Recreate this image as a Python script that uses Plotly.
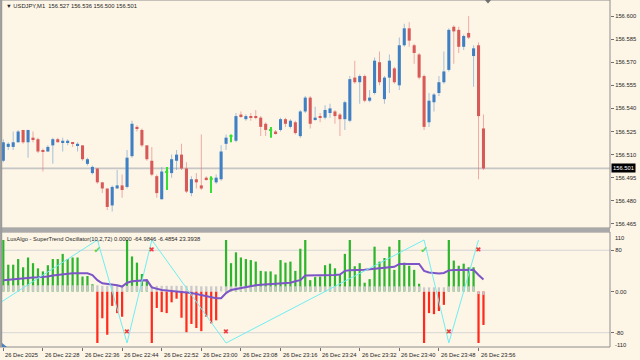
import plotly.graph_objects as go

# ---------------- data ----------------
opens = [156.506, 156.515, 156.515, 156.518, 156.526, 156.518, 156.521, 156.520, 156.513, 156.512,
         156.516, 156.520, 156.518, 156.518, 156.518, 156.516, 156.516, 156.504, 156.498, 156.501,
         156.492, 156.488, 156.477, 156.488, 156.490, 156.489, 156.509, 156.528, 156.526, 156.516,
         156.506, 156.496, 156.481, 156.4985, 156.498, 156.506, 156.510, 156.501, 156.485, 156.494,
         156.490, 156.495, 156.494, 156.492, 156.494, 156.517, 156.5215, 156.519, 156.536, 156.533,
         156.535, 156.535, 156.534, 156.530, 156.5255, 156.525, 156.526, 156.533, 156.528, 156.531,
         156.522, 156.538, 156.547, 156.533, 156.535, 156.534, 156.537, 156.538, 156.536, 156.533,
         156.532, 156.560, 156.557, 156.561, 156.545, 156.550, 156.570, 156.546, 156.560, 156.566,
         156.555, 156.581, 156.592, 156.581, 156.575, 156.561, 156.531, 156.544, 156.550, 156.557,
         156.565, 156.593, 156.591, 156.580, 156.589, 156.574, 156.581, 156.527]
highs = [156.520, 156.518, 156.525, 156.526, 156.526, 156.526, 156.525, 156.521, 156.514, 156.516,
         156.521, 156.521, 156.521, 156.520, 156.518, 156.518, 156.516, 156.508, 156.503, 156.501,
         156.492, 156.488, 156.490, 156.500, 156.497, 156.513, 156.532, 156.529, 156.527, 156.516,
         156.515, 156.497, 156.502, 156.502, 156.510, 156.513, 156.517, 156.505, 156.496, 156.498,
         156.523, 156.496, 156.496, 156.497, 156.516, 156.523, 156.523, 156.537, 156.538, 156.536,
         156.537, 156.539, 156.535, 156.531, 156.528, 156.526, 156.534, 156.534, 156.533, 156.532,
         156.539, 156.548, 156.548, 156.541, 156.537, 156.542, 156.543, 156.539, 156.537, 156.545,
         156.561, 156.571, 156.562, 156.562, 156.552, 156.573, 156.577, 156.561, 156.575, 156.567,
         156.586, 156.595, 156.596, 156.582, 156.576, 156.562, 156.550, 156.550, 156.561, 156.577,
         156.592, 156.594, 156.593, 156.588, 156.600, 156.581, 156.583, 156.536]
lows = [156.505, 156.513, 156.513, 156.518, 156.517, 156.508, 156.518, 156.511, 156.499, 156.512,
        156.504, 156.518, 156.512, 156.516, 156.515, 156.512, 156.506, 156.503, 156.497, 156.491,
        156.485, 156.474, 156.473, 156.488, 156.482, 156.488, 156.508, 156.525, 156.515, 156.506,
        156.496, 156.482, 156.481, 156.487, 156.495, 156.500, 156.500, 156.485, 156.483, 156.488,
        156.487, 156.493, 156.485, 156.491, 156.493, 156.513, 156.518, 156.518, 156.534, 156.532,
        156.532, 156.533, 156.522, 156.522, 156.521, 156.523, 156.525, 156.528, 156.527, 156.523,
        156.521, 156.537, 156.527, 156.532, 156.531, 156.533, 156.534, 156.530, 156.522, 156.526,
        156.531, 156.556, 156.543, 156.544, 156.544, 156.549, 156.555, 156.543, 156.550, 156.556,
        156.552, 156.580, 156.580, 156.569, 156.559, 156.526, 156.528, 156.538, 156.548, 156.556,
        156.564, 156.569, 156.576, 156.578, 156.585, 156.554, 156.494, 156.500]
closes = [156.518, 156.517, 156.518, 156.525, 156.518, 156.526, 156.520, 156.512, 156.512, 156.515,
          156.520, 156.518, 156.519, 156.519, 156.517, 156.517, 156.507, 156.507, 156.502, 156.492,
          156.488, 156.476, 156.489, 156.490, 156.487, 156.508, 156.530, 156.527, 156.516, 156.507,
          156.497, 156.485, 156.499, 156.4995, 156.507, 156.510, 156.501, 156.486, 156.494, 156.492,
          156.488, 156.494, 156.495, 156.495, 156.512, 156.521, 156.5225, 156.535, 156.535, 156.535,
          156.534, 156.534, 156.528, 156.526, 156.5265, 156.524, 156.533, 156.530, 156.532, 156.524,
          156.538, 156.547, 156.530, 156.534, 156.534, 156.539, 156.540, 156.535, 156.533, 156.544,
          156.559, 156.557, 156.561, 156.545, 156.547, 156.571, 156.557, 156.560, 156.571, 156.557,
          156.581, 156.592, 156.584, 156.576, 156.560, 156.528, 156.545, 156.549, 156.557, 156.564,
          156.591, 156.590, 156.580, 156.587, 156.586, 156.579, 156.535, 156.501]
highlight_bars = [33, 42, 46, 54]

osc_hist = [100, 52, 52, 63, 47, 66, 55, 45, 39, 51,
            63, 63, 73, 63, 66, 66, 29, 30, 14,
            -100, -52, -84, -28, -42, -49,
            100, 68, 56, 34, 22,
            -100, -32, -40, -42, -21, -14, -51, -79, -63, -71, -77, -49, -62, -56,
            0,
            100, 55, 76, 66, 63, 61, 58, 40, 39, 39, 33, 61, 56, 58, 40, 83, 100, 22, 28,
            29, 51, 54, 45, 32, 73, 100, 49, 55, 17, 24, 87, 58, 65, 87, 42, 100, 56, 50, 42, 15,
            -100, -42, -44, -38, -26,
            100, 60, 50, 54, 47, 47,
            -100, -64.98]
osc_gray = [12, 12, 12, 12, 12, 12, 12, 12, 12, 12, 12, 12, 12, 12, 12, 12, 12, 12, 12, 12,
            11, 11, 11, 11, 11, 11, 11, 11, 11, 11, 11, 11, 11, 11, 11, 11, 11, 11, 11, 11,
            10, 10, 10, 10, 10, 10, 10, 10, 10, 10, 10, 10, 10, 10, 10, 10, 10, 10, 10, 10,
            10, 10, 10, 10, 10, 10, 10, 10, 10, 10, 10, 10, 10, 10, 10, 10, 10, 10, 10, 10,
            10, 10, 10, 10, 10, 8, 8, 8, 8, 8, 10, 10, 10, 10, 10, 10, -5, -6.49]
osc_signal = [22, 23, 24, 25, 26, 26.5, 27, 27.5, 28, 29,
              31, 32, 34, 35, 35.5, 35.5, 35.5, 35.5, 32, 22,
              16, 15, 13, 12, 9.6, 17, 20, 21, 22, 22,
              8, 5, 3, 2, 1, 0, -1, -1.5, -3, -5,
              -7, -9, -11, -13, -13, -3, 3, 5, 7, 9,
              11, 12, 13, 13.5, 14, 15, 16, 16.5, 17, 20,
              22, 31, 31, 31, 31, 31.5, 31.5, 32, 33, 40,
              41, 41, 41.5, 42, 43, 44, 45, 46, 47, 48,
              53.5, 53.5, 53.5, 53.5, 53.5, 40, 37, 36, 35, 36,
              41, 41.5, 41.5, 42, 42, 42, 32, 23.39]
zig_bars = [0, 19, 25, 30, 45, 85, 90, 96]
zig_vals = [-18, 100, -100, 100, -100, 100, -100, 100]
buy_bars = [19, 85]
buy_vals = [80, 80]
sell_bars = [25, 30, 45, 90, 96]
sell_vals = [-80, 80, -80, -80, 80]

time_bars = [0, 8, 16, 24, 32, 40, 48, 56, 64, 72, 80, 88, 96]
time_labels = ["26 Dec 2025", "26 Dec 22:28", "26 Dec 22:36", "26 Dec 22:44", "26 Dec 22:52",
               "26 Dec 23:00", "26 Dec 23:08", "26 Dec 23:16", "26 Dec 23:24", "26 Dec 23:32",
               "26 Dec 23:40", "26 Dec 23:48", "26 Dec 23:56"]
price_ticks = [156.465, 156.480, 156.495, 156.510, 156.525, 156.540, 156.555, 156.570, 156.585, 156.600]
osc_ticks = [80, 0, -80]
osc_tick_text = ["80", "0.00", "-80"]

# ---------------- styling ----------------
BG = "#FDF5E6"
BLUE = "#3F7FC3"
RED = "#D85A58"
GREEN_C = "#33E033"
FONT = "Liberation Sans, Arial, sans-serif"
FS = 5.8
TXT = "#262626"

n = len(opens)
xs = list(range(n))

body_col, wick_col = [], []
for i in xs:
    if i in highlight_bars:
        body_col.append(GREEN_C)
        wick_col.append(GREEN_C)
    elif closes[i] >= opens[i]:
        body_col.append(BLUE)
        wick_col.append("rgba(95,150,205,0.55)")
    else:
        body_col.append(RED)
        wick_col.append("rgba(225,110,110,0.55)")

body_base = [min(o, c) for o, c in zip(opens, closes)]
body_h = [max(abs(c - o), 0.0006) for o, c in zip(opens, closes)]
wick_h = [h - l for h, l in zip(highs, lows)]

fig = go.Figure()
fig.add_trace(go.Bar(x=xs, y=wick_h, base=lows, width=0.2, marker=dict(color=wick_col, line=dict(width=0)),
                     yaxis="y", hoverinfo="skip"))
fig.add_trace(go.Bar(x=xs, y=body_h, base=body_base, width=0.62, marker=dict(color=body_col, line=dict(width=0)),
                     yaxis="y", hoverinfo="skip"))

osc_col = ["#2DB52D" if v >= 0 else "#FF2A1C" for v in osc_hist]
fig.add_trace(go.Bar(x=xs, y=osc_hist, base=0, width=0.45, marker=dict(color=osc_col, line=dict(width=0)),
                     yaxis="y2", hoverinfo="skip"))
fig.add_trace(go.Bar(x=xs, y=osc_gray, base=0, width=0.45, marker=dict(color="#C9C9C9", line=dict(width=0)),
                     yaxis="y2", hoverinfo="skip"))
fig.add_trace(go.Scatter(x=xs, y=osc_signal, mode="lines", line=dict(color="#7D55C7", width=2),
                         yaxis="y2", hoverinfo="skip"))
fig.add_trace(go.Scatter(x=[-0.67] + zig_bars[1:], y=[-22] + zig_vals[1:], mode="lines",
                         line=dict(color="#6EEEF2", width=1), yaxis="y2", hoverinfo="skip"))
fig.add_trace(go.Scatter(x=buy_bars, y=buy_vals, mode="text", text=["✔"] * len(buy_bars),
                         textfont=dict(color="#55D355", size=9, family="DejaVu Sans"), yaxis="y2", hoverinfo="skip"))
fig.add_trace(go.Scatter(x=sell_bars, y=sell_vals, mode="text", text=["✖"] * len(sell_bars),
                         textfont=dict(color="#F03A3A", size=7, family="DejaVu Sans"), yaxis="y2", hoverinfo="skip"))

H = 347.0  # plot area height in px (t=0, b=13)
main_dom = [(H - 228) / H, 1.0]
osc_dom = [0.0, (H - 232) / H]

def py(px):
    return (H - px) / H

fig.update_layout(
    width=640, height=360, margin=dict(l=0, r=30, t=0, b=13),
    paper_bgcolor=BG, plot_bgcolor=BG, showlegend=False, hovermode=False,
    barmode="overlay",
    font=dict(family=FONT, size=FS, color=TXT),
    xaxis=dict(range=[-0.667, 122.56], anchor="y2", showgrid=False, zeroline=False,
               tickvals=time_bars, showticklabels=False, ticks="outside", ticklen=3,
               tickcolor="#707070", showline=False, fixedrange=True),
    yaxis=dict(domain=main_dom, range=[156.46234, 156.61039], side="right", anchor="x",
               showgrid=False, zeroline=False, tickvals=price_ticks,
               ticktext=[f"{p:.3f}" for p in price_ticks], ticks="outside", ticklen=3,
               tickcolor="#707070", tickfont=dict(size=FS, color=TXT, family=FONT), showline=False),
    yaxis2=dict(domain=osc_dom, range=[-107.8, 115.5], side="right", anchor="x",
                showgrid=False, zeroline=False, tickvals=osc_ticks, ticktext=osc_tick_text,
                ticks="outside", ticklen=3, tickcolor="#707070",
                tickfont=dict(size=FS, color=TXT, family=FONT), showline=False),
)

shapes = []
# current price line
shapes.append(dict(type="line", xref="paper", x0=0, x1=1, yref="y", y0=closes[-1], y1=closes[-1],
                   line=dict(color="#C6C6C6", width=1.8), layer="below"))
# oscillator levels
for lv in [80, -80]:
    shapes.append(dict(type="line", xref="paper", x0=0, x1=1, yref="y2", y0=lv, y1=lv,
                       line=dict(color="#D6D6D6", width=1), layer="below"))
# panel frames
shapes.append(dict(type="rect", xref="paper", yref="paper", x0=0, x1=1, y0=main_dom[0], y1=1,
                   line=dict(color="#8E8E8E", width=1), layer="above"))
shapes.append(dict(type="rect", xref="paper", yref="paper", x0=0, x1=1, y0=0, y1=osc_dom[1],
                   line=dict(color="#8E8E8E", width=1), layer="above"))
# separator between panels
shapes.append(dict(type="rect", xref="paper", yref="paper", x0=0, x1=1, y0=osc_dom[1], y1=main_dom[0],
                   fillcolor="#A9A9A9", line=dict(width=0), layer="above"))
# left frame
shapes.append(dict(type="line", xref="paper", yref="paper", x0=0.002, x1=0.002, y0=0, y1=1,
                   line=dict(color="#9A9A9A", width=2), layer="above"))
# chart shift marker
shapes.append(dict(type="path", xref="paper", yref="paper",
                   path=f"M {485/610} {py(0)} L {491/610} {py(0)} L {488/610} {py(3.5)} Z",
                   fillcolor="#6E6E6E", line=dict(width=0), layer="above"))
# small marker bottom-left
shapes.append(dict(type="path", xref="paper", yref="paper",
                   path=f"M {2/610} {py(347)} L {7/610} {py(347)} L {2/610} {py(343)} Z",
                   fillcolor="#4A7FC1", line=dict(width=0), layer="above"))
fig.update_layout(shapes=shapes)

ann = []
header = f"▼ USDJPY,M1  {opens[-1]:.3f} {highs[-1]:.3f} {lows[-1]:.3f} {closes[-1]:.3f}"
ann.append(dict(text=header, xref="paper", yref="paper", x=4 / 610, y=py(6), xanchor="left",
                yanchor="middle", showarrow=False, font=dict(size=FS, color=TXT, family=FONT)))
ann.append(dict(text="LuxAlgo - SuperTrend Oscillator(10,2,72) 0.0000 -64.9846 -6.4854 23.3938",
                xref="paper", yref="paper", x=5 / 610, y=py(239), xanchor="left", yanchor="middle",
                showarrow=False, font=dict(size=FS, color=TXT, family=FONT)))
ann.append(dict(text="110", xref="paper", yref="paper", x=1, y=py(238), xanchor="left", yanchor="middle",
                xshift=3, showarrow=False, font=dict(size=FS, color=TXT, family=FONT)))
ann.append(dict(text="-110", xref="paper", yref="paper", x=1, y=py(344.7), xanchor="left", yanchor="middle",
                xshift=3, showarrow=False, font=dict(size=FS, color=TXT, family=FONT)))
ann.append(dict(text=f"{closes[-1]:.3f}", xref="paper", yref="y", x=1, y=closes[-1], xanchor="left",
                yanchor="middle", xshift=1, showarrow=False, bgcolor="#000000", borderpad=1,
                font=dict(size=FS, color="#FFFFFF", family=FONT)))
for b, lab in zip(time_bars, time_labels):
    ann.append(dict(text=lab, xref="x", yref="paper", x=b, y=py(354.5), xanchor="left", yanchor="middle",
                    xshift=0, showarrow=False, font=dict(size=FS, color=TXT, family=FONT)))
fig.update_layout(annotations=ann)

fig.write_html("out.html")
